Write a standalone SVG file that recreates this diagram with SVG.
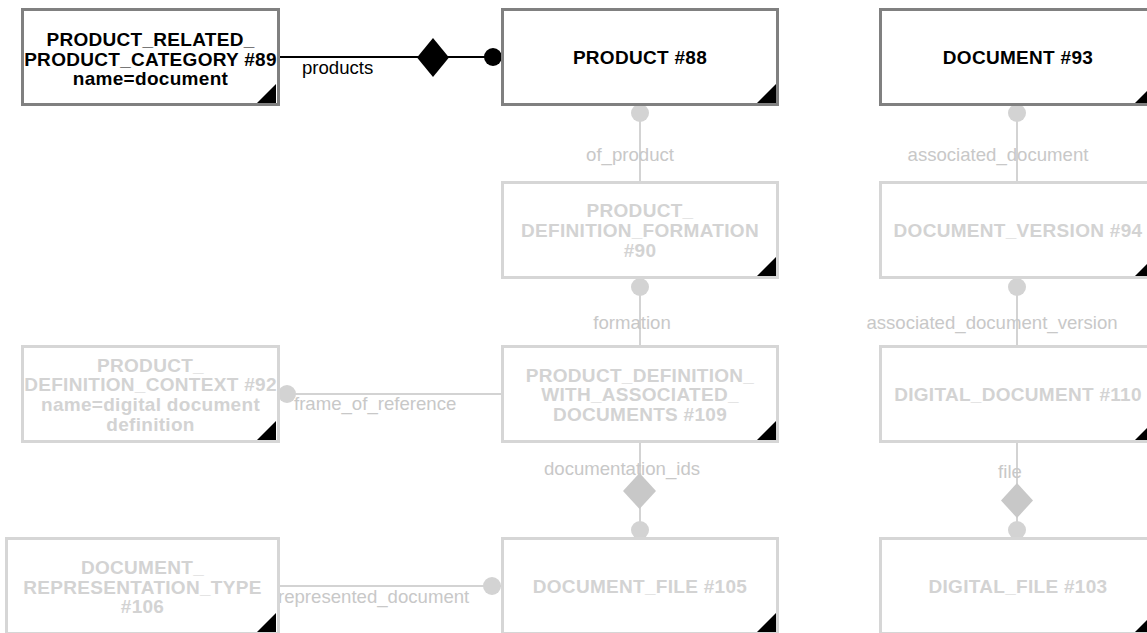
<svg xmlns="http://www.w3.org/2000/svg" width="1147" height="633" viewBox="0 0 1147 633">
<style>
.box{fill:#fff;stroke-width:3}
.on{stroke:#808080}
.off{stroke:#d6d6d6}
.nt{font-family:"Liberation Sans",Arial,sans-serif;font-weight:bold;font-size:19px;letter-spacing:0.3px;text-anchor:middle}
.ton{fill:#000}
.toff{fill:#d3d3d3}
.lbl{font-family:"Liberation Sans",Arial,sans-serif;font-size:18.6px}
.lon{fill:#000}
.loff{fill:#c8c8c8}
.con{stroke:#000;stroke-width:2;fill:none}
.coff{stroke:#d3d3d3;stroke-width:2;fill:none}
.tri{fill:#000}
</style>
<rect width="1147" height="633" fill="#fff"/>
<g id="connectors">
  <line class="con" x1="280" y1="57" x2="502" y2="57"/>
  <polygon points="417,57.5 433,38 449,57.5 433,77" fill="#000"/>
  <circle cx="493" cy="57" r="9" fill="#000"/>
  <text class="lbl lon" x="302" y="74">products</text>

  <line class="coff" x1="640" y1="106" x2="640" y2="182"/>
  <circle cx="640" cy="113" r="9" fill="#d3d3d3"/>
  <text class="lbl loff" x="630" y="161" text-anchor="middle">of_product</text>

  <line class="coff" x1="640" y1="279" x2="640" y2="346"/>
  <circle cx="640" cy="287" r="9" fill="#d3d3d3"/>
  <text class="lbl loff" x="632" y="329" text-anchor="middle">formation</text>

  <line class="coff" x1="280" y1="394" x2="502" y2="394"/>
  <circle cx="287" cy="394" r="9" fill="#d3d3d3"/>
  <text class="lbl loff" x="294" y="410">frame_of_reference</text>

  <line class="coff" x1="640" y1="443" x2="640" y2="538"/>
  <polygon points="623,491 639.5,473 656,491 639.5,509" fill="#c8c8c8"/>
  <circle cx="640" cy="530" r="9" fill="#d3d3d3"/>
  <text class="lbl loff" x="622" y="475" text-anchor="middle">documentation_ids</text>

  <line class="coff" x1="280" y1="586" x2="502" y2="586"/>
  <circle cx="492" cy="586" r="9" fill="#d3d3d3"/>
  <text class="lbl loff" x="278" y="603">represented_document</text>

  <line class="coff" x1="1017" y1="106" x2="1017" y2="182"/>
  <circle cx="1017" cy="113" r="9" fill="#d3d3d3"/>
  <text class="lbl loff" x="998" y="161" text-anchor="middle">associated_document</text>

  <line class="coff" x1="1017" y1="279" x2="1017" y2="346"/>
  <circle cx="1017" cy="287" r="9" fill="#d3d3d3"/>
  <text class="lbl loff" x="992" y="329" text-anchor="middle">associated_document_version</text>

  <line class="coff" x1="1017" y1="443" x2="1017" y2="538"/>
  <polygon points="1001,500.5 1017,483 1033,500.5 1017,518" fill="#c8c8c8"/>
  <circle cx="1017" cy="530" r="9" fill="#d3d3d3"/>
  <text class="lbl loff" x="1010" y="478" text-anchor="middle">file</text>
</g>

<g id="n89">
  <rect class="box on" x="22.5" y="9.5" width="256" height="95"/>
  <polygon class="tri" points="276,103 257,103 276,84"/>
  <text class="nt ton" x="150.5" y="46">PRODUCT_RELATED_</text>
  <text class="nt ton" x="150.5" y="65.5">PRODUCT_CATEGORY #89</text>
  <text class="nt ton" x="150.5" y="85">name=document</text>
</g>
<g id="n88">
  <rect class="box on" x="502.5" y="9.5" width="275" height="95"/>
  <polygon class="tri" points="776,103 757,103 776,84"/>
  <text class="nt ton" x="640" y="64">PRODUCT #88</text>
</g>
<g id="n93">
  <rect class="box on" x="880.5" y="9.5" width="275" height="95"/>
  <polygon class="tri" points="1154,103 1135,103 1154,84"/>
  <text class="nt ton" x="1018" y="64">DOCUMENT #93</text>
</g>
<g id="n90">
  <rect class="box off" x="502.5" y="182.5" width="275" height="95"/>
  <polygon class="tri" points="776,276 757,276 776,257"/>
  <text class="nt toff" x="640" y="217">PRODUCT_</text>
  <text class="nt toff" x="640" y="237">DEFINITION_FORMATION</text>
  <text class="nt toff" x="640" y="257">#90</text>
</g>
<g id="n94">
  <rect class="box off" x="880.5" y="182.5" width="275" height="95"/>
  <polygon class="tri" points="1154,276 1135,276 1154,257"/>
  <text class="nt toff" x="1018" y="237">DOCUMENT_VERSION #94</text>
</g>
<g id="n92">
  <rect class="box off" x="22.5" y="346.5" width="256" height="95"/>
  <polygon class="tri" points="276,440 257,440 276,421"/>
  <text class="nt toff" x="150.5" y="372">PRODUCT_</text>
  <text class="nt toff" x="150.5" y="391">DEFINITION_CONTEXT #92</text>
  <text class="nt toff" x="150.5" y="411">name=digital document</text>
  <text class="nt toff" x="150.5" y="431">definition</text>
</g>
<g id="n109">
  <rect class="box off" x="502.5" y="346.5" width="275" height="95"/>
  <polygon class="tri" points="776,440 757,440 776,421"/>
  <text class="nt toff" x="640" y="381.5">PRODUCT_DEFINITION_</text>
  <text class="nt toff" x="640" y="401">WITH_ASSOCIATED_</text>
  <text class="nt toff" x="640" y="420.5">DOCUMENTS #109</text>
</g>
<g id="n110">
  <rect class="box off" x="880.5" y="346.5" width="275" height="95"/>
  <polygon class="tri" points="1154,440 1135,440 1154,421"/>
  <text class="nt toff" x="1018" y="401">DIGITAL_DOCUMENT #110</text>
</g>
<g id="n106">
  <rect class="box off" x="6.5" y="538.5" width="272" height="95"/>
  <polygon class="tri" points="276,632 257,632 276,613"/>
  <text class="nt toff" x="142.5" y="574">DOCUMENT_</text>
  <text class="nt toff" x="142.5" y="594">REPRESENTATION_TYPE</text>
  <text class="nt toff" x="142.5" y="613">#106</text>
</g>
<g id="n105">
  <rect class="box off" x="502.5" y="538.5" width="275" height="95"/>
  <polygon class="tri" points="776,632 757,632 776,613"/>
  <text class="nt toff" x="640" y="593">DOCUMENT_FILE #105</text>
</g>
<g id="n103">
  <rect class="box off" x="880.5" y="538.5" width="275" height="95"/>
  <polygon class="tri" points="1154,632 1135,632 1154,613"/>
  <text class="nt toff" x="1018" y="593">DIGITAL_FILE #103</text>
</g>
</svg>
